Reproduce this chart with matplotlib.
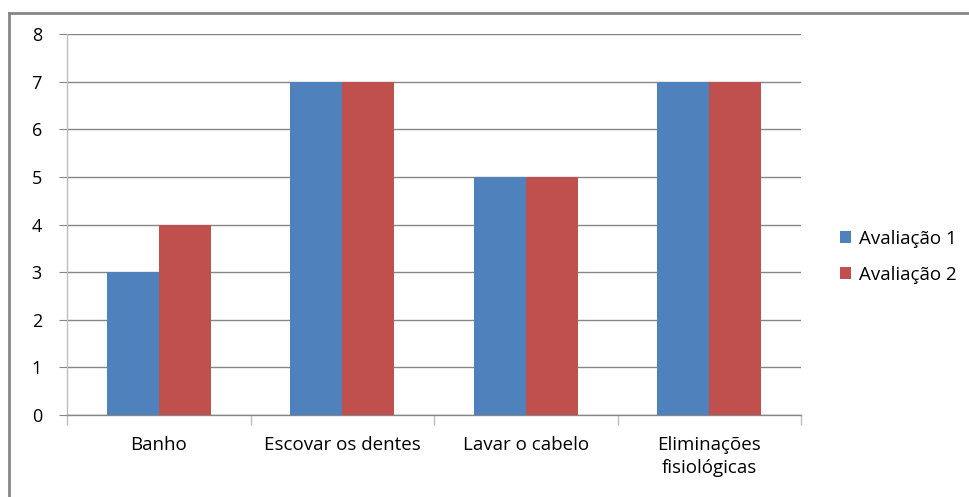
import matplotlib
matplotlib.use("Agg")
import matplotlib.pyplot as plt
import numpy as np
from matplotlib.lines import Line2D

categories = ["Banho", "Escovar os dentes", "Lavar o cabelo", "Eliminações\nfisiológicas"]
series_names = ["Avaliação 1", "Avaliação 2"]
aval1 = [3, 7, 5, 7]
aval2 = [4, 7, 5, 7]
yticks = [0, 1, 2, 3, 4, 5, 6, 7, 8]

plt.rcParams['font.family'] = ['Open Sans', 'DejaVu Sans']

W, H = 970, 497
fig = plt.figure(figsize=(W / 100, H / 100), dpi=100)

# outer border (top and left visible, rest cropped)
fig.add_artist(Line2D([9 / W, 9 / W], [0, 1 - 13 / H], color="#868686", lw=2, transform=fig.transFigure))
fig.add_artist(Line2D([9 / W, 1], [1 - 13 / H, 1 - 13 / H], color="#868686", lw=2, transform=fig.transFigure))

x0, x1 = 67, 801
ytop, ybot = 34, 415
ax = fig.add_axes([x0 / W, 1 - ybot / H, (x1 - x0) / W, (ybot - ytop) / H])

colors = ["#4F81BD", "#C0504D"]
n = len(categories)
x = np.arange(n)
bw = 0.283
ax.bar(x - bw / 2, aval1, width=bw, color=colors[0], label=series_names[0], zorder=3)
ax.bar(x + bw / 2, aval2, width=bw, color=colors[1], label=series_names[1], zorder=3)

ax.set_xlim(-0.5, n - 0.5)
ax.set_ylim(0, 8)
ax.set_yticks(yticks)
ax.set_yticklabels([str(v) for v in yticks], fontsize=13)
ax.grid(axis="y", color="#868686", lw=1, zorder=0)
for s in ["top", "right"]:
    ax.spines[s].set_visible(False)
ax.spines["left"].set_color("#BEBEBE")
ax.spines["bottom"].set_color("#868686")
ax.spines["left"].set_linewidth(1)
ax.spines["bottom"].set_linewidth(1)

ax.tick_params(axis="y", length=6, color="#868686", pad=12, labelcolor="#000000")
ax.set_xticks(np.arange(-0.5, n, 1.0))
ax.set_xticklabels([])
ax.tick_params(axis="x", length=7, color="#BEBEBE", width=1)
ax.set_xticks(x, minor=True)
ax.set_xticklabels(categories, minor=True, fontsize=13.5, linespacing=1.35)
ax.tick_params(axis="x", which="minor", length=0, pad=15)

leg = ax.legend(loc="center left", bbox_to_anchor=(1.03, 0.415), frameon=False,
                fontsize=13.5, handlelength=0.6, handleheight=0.6, handletextpad=0.4,
                labelspacing=0.95)

fig.savefig("out.png", dpi=100)
